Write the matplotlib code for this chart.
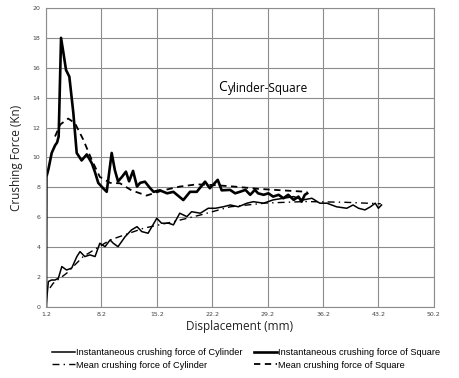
import matplotlib
matplotlib.use("Agg")
import matplotlib.pyplot as plt

# square tube, instantaneous force (thick solid)
sq_x = [1.2, 1.25, 1.5, 1.92, 2.34, 2.6, 2.8, 3.1, 3.4, 3.73, 4.15, 4.65, 5.08, 5.7, 6.35,
        7.0, 7.4, 7.8, 8.4, 8.87, 9.5, 9.9, 10.3, 10.8, 11.3, 11.7, 12.2, 12.7, 13.1, 13.7,
        14.35, 14.8, 15.6, 16.5, 17.3, 18.55, 19.4, 20.25, 21.3, 21.9, 22.9, 23.4, 24.46,
        25.1, 25.7, 26.4, 27.0, 27.6, 28.0, 28.7, 29.3, 29.9, 30.6, 31.2, 31.8, 32.5,
        33.1, 33.5, 33.9, 34.2]
sq_y = [0.0, 8.7, 9.2, 10.3, 10.8, 11.0, 11.4, 18.0, 17.0, 15.85, 15.4, 13.0, 10.3, 9.8, 10.2,
        9.6, 9.0, 8.3, 7.95, 7.7, 10.3, 9.15, 8.4, 8.7, 9.05, 8.4, 9.1, 8.05, 8.3, 8.38,
        7.95, 7.7, 7.8, 7.6, 7.7, 7.15, 7.7, 7.7, 8.38, 7.94, 8.5, 7.8, 7.83,
        7.6, 7.7, 7.83, 7.5, 7.83, 7.6, 7.5, 7.6, 7.38, 7.5, 7.27, 7.5, 7.16,
        7.38, 7.04, 7.5, 7.6]

# square tube, mean force (thick dashed)
sqm_x = [2.34, 3.0, 4.0, 4.85, 5.9, 6.97, 8.0, 9.3, 10.55, 12.0, 13.9, 16.0, 18.1, 20.25,
         22.5, 25.0, 28.0, 31.0, 34.2]
sqm_y = [11.4, 12.2, 12.6, 12.3, 11.2, 9.85, 8.7, 8.3, 8.27, 7.8, 7.45, 7.8, 8.05, 8.2,
         8.15, 8.05, 7.9, 7.8, 7.7]

# cylinder tube, instantaneous force (thin solid)
cy_x = [1.2, 1.5, 1.9, 2.34, 2.76, 3.2, 3.8, 4.45, 5.1, 5.5, 6.1, 6.76, 7.4, 8.0, 8.66,
        9.3, 9.7, 10.3, 11.2, 12.0, 12.7, 13.3, 14.1, 15.2, 15.8, 16.7, 17.3, 18.1, 19.0,
        19.6, 20.7, 21.7, 22.6, 23.6, 24.5, 25.5, 26.6, 27.4, 28.7, 29.9, 31.2, 32.5,
        33.7, 34.8, 35.8, 36.7, 37.9, 39.2, 40.0, 40.7, 41.5, 42.2, 42.8, 43.2, 43.6]
cy_y = [0.0, 1.7, 1.8, 1.8, 1.92, 2.7, 2.47, 2.6, 3.37, 3.7, 3.37, 3.48, 3.37, 4.26, 4.03,
        4.48, 4.26, 4.03, 4.7, 5.15, 5.37, 5.04, 4.93, 5.93, 5.6, 5.6, 5.49, 6.27, 6.04,
        6.37, 6.27, 6.6, 6.6, 6.7, 6.82, 6.7, 6.94, 7.04, 6.94, 7.16, 7.27, 7.38,
        7.16, 7.27, 6.94, 6.94, 6.7, 6.6, 6.82, 6.6, 6.49, 6.7, 6.94, 6.6, 6.82]

# cylinder tube, mean force (thin dash-dot)
cym_x = [1.7, 2.1, 3.8, 5.9, 9.3, 13.5, 17.3, 20.7, 24.5, 29.0, 34.0, 39.0, 43.5]
cym_y = [1.27, 1.58, 2.25, 3.37, 4.48, 5.26, 5.7, 6.15, 6.7, 6.95, 7.05, 7.0, 6.9]

xticks = [1.2, 8.2, 15.2, 22.2, 29.2, 36.2, 43.2, 50.2]
yticks = [0, 2, 4, 6, 8, 10, 12, 14, 16, 18, 20]

fig = plt.figure(figsize=(4.6, 3.78), dpi=100)
ax = fig.add_axes([0.1, 0.188, 0.843, 0.791])

l1, = ax.plot(cy_x, cy_y, color="black", lw=1.1, label="Instantaneous crushing force of Cylinder")
l3, = ax.plot(sq_x, sq_y, color="black", lw=1.9, label="Instantaneous crushing force of Square")
l2, = ax.plot(cym_x, cym_y, color="black", lw=1.0, ls=(0, (5, 3, 1, 3)),
              label="Mean crushing force of Cylinder")
l4, = ax.plot(sqm_x, sqm_y, color="black", lw=1.3, ls=(0, (3.5, 2.5)),
              label="Mean crushing force of Square")

ax.set_xlim(1.2, 50.2)
ax.set_ylim(0, 20)
ax.set_xticks(xticks)
ax.set_xticklabels([str(v) for v in xticks])
ax.set_yticks(yticks)
ax.tick_params(labelsize=4.5, length=0, pad=4, colors="#444444")
ax.grid(True, color="#8c8c8c", lw=0.8)
for s in ax.spines.values():
    s.set_color("#8c8c8c")
    s.set_linewidth(0.8)

ax.set_xlabel("Displacement (mm)", fontsize=8.5, family="Open Sans", color="#222222", labelpad=2)
ax.set_ylabel("Crushing Force (Kn)", fontsize=8.5, family="Open Sans", color="#222222", labelpad=7)

ax.text(22.9, 14.65, "C", fontsize=10, family="Open Sans", va="center")
ax.text(24.2, 14.6, "ylinder-Square", fontsize=8.5, family="Open Sans", va="center")

fig.legend(handles=[l1, l2, l3, l4], ncol=2, loc="upper left",
           bbox_to_anchor=(52 / 460, 1 - 348 / 378), borderaxespad=0, borderpad=0,
           frameon=False, prop={"family": "Liberation Sans", "size": 6.7},
           handlelength=2.5, handletextpad=0.1, columnspacing=1.2, labelspacing=0.4)

plt.savefig("out.png", dpi=100)
plt.close()
